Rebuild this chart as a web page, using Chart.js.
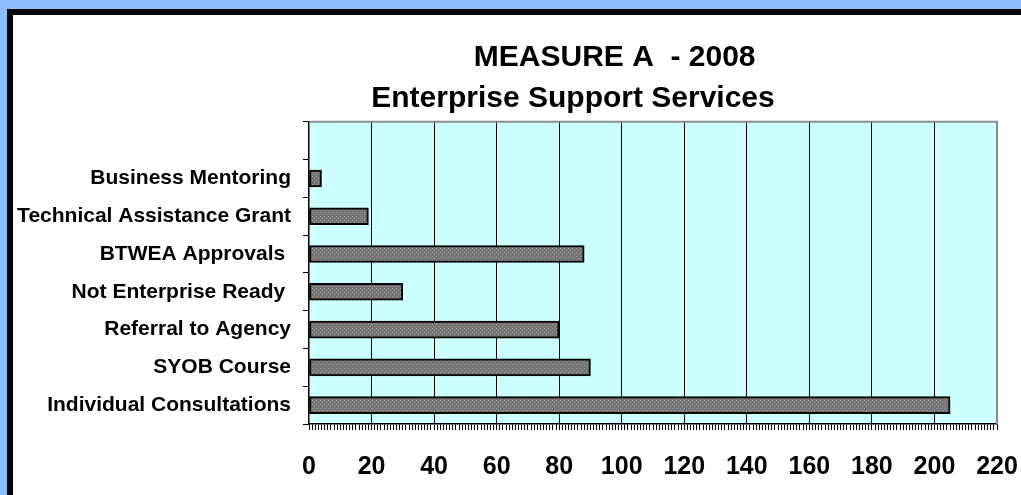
<!DOCTYPE html>
<html><head><meta charset="utf-8">
<script src="https://cdn.jsdelivr.net/npm/chart.js@4/dist/chart.umd.min.js"></script>
<style>
html,body{margin:0;padding:0;width:1021px;height:495px;overflow:hidden;background:#8DBEFE;}
#frame{position:absolute;left:7px;top:9px;width:1100px;height:600px;border-left:6px solid #000;border-top:6px solid #000;background:#fff;}
#c{position:absolute;left:0;top:0;}
</style></head><body>
<div id="frame"></div>
<canvas id="c" width="1146" height="495"></canvas>
<script>
const titleLines = ['          MEASURE A  - 2008', 'Enterprise Support Services'];
const categories = ['', 'Business Mentoring', 'Technical Assistance Grant', 'BTWEA Approvals ', 'Not Enterprise Ready ', 'Referral to Agency', 'SYOB Course', 'Individual Consultations'];
const values = [null, 4, 19, 88, 30, 80, 90, 205];
const xMin = 0, xMax = 220, xMajorStep = 20, xMinorStep = 1;

Chart.defaults.font.family = '"Liberation Sans", Arial, sans-serif';

function makePattern() {
  const p = document.createElement('canvas');
  p.width = 4; p.height = 4;
  const g = p.getContext('2d');
  g.fillStyle = '#757575'; g.fillRect(0, 0, 4, 4);
  g.fillStyle = '#9c9c9c'; g.fillRect(0, 0, 1, 1); g.fillRect(2, 2, 1, 1);
  return g.createPattern(p, 'repeat');
}

const plotBg = {
  id: 'plotBg',
  beforeDraw(chart) {
    const {ctx, chartArea: a} = chart;
    ctx.save(); ctx.fillStyle = '#CCFFFF';
    ctx.fillRect(a.left, a.top, a.width, a.height); ctx.restore();
  },
  afterDraw(chart) {
    const {ctx, chartArea: a} = chart;
    ctx.save(); ctx.strokeStyle = '#8c8c8c'; ctx.lineWidth = 2;
    ctx.beginPath(); ctx.moveTo(a.left, a.top); ctx.lineTo(a.right, a.top); ctx.lineTo(a.right, a.bottom);
    ctx.stroke(); ctx.restore();
  }
};

new Chart(document.getElementById('c'), {
  type: 'bar',
  data: {
    labels: categories,
    datasets: [{
      data: values,
      backgroundColor: makePattern(),
      borderColor: '#000',
      borderWidth: 2,
      borderSkipped: false,
      barThickness: 17
    }]
  },
  options: {
    responsive: false, animation: false, indexAxis: 'y', devicePixelRatio: 1,
    layout: {padding: 0},
    plugins: {
      legend: {display: false}, tooltip: {enabled: false},
      title: {display: true, text: titleLines, color: '#000',
        font: {size: 30, weight: 'bold', lineHeight: 1.38}, padding: {top: 37, bottom: 2}}
    },
    scales: {
      x: {
        type: 'linear', min: xMin, max: xMax,
        afterFit(s) { s.height = 71; },
        border: {display: true, color: '#000', width: 1.5},
        grid: {
          color: c => (c.tick && c.tick.value % xMajorStep === 0 && c.tick.value > xMin && c.tick.value < xMax) ? '#000' : 'rgba(0,0,0,0)',
          tickColor: '#000', tickLength: 6, lineWidth: 1
        },
        ticks: {stepSize: xMinorStep, maxTicksLimit: 1000, autoSkip: false, maxRotation: 0, minRotation: 0,
          padding: 22, color: '#000', font: {size: 25, weight: 'bold'},
          callback: v => (v % xMajorStep === 0 ? String(v) : '')}
      },
      y: {
        type: 'category',
        afterFit(s) { s.width = 309; },
        border: {display: true, color: '#000', width: 1.5},
        grid: {drawOnChartArea: false, tickLength: 6, color: '#000', offset: true},
        ticks: {padding: 12, color: '#000', font: {size: 21, weight: 'bold'}, autoSkip: false}
      },
      yRight: {
        type: 'linear', axis: 'y', position: 'right', display: true,
        afterFit(s) { s.width = 149; },
        grid: {display: false}, border: {display: false}, ticks: {display: false}
      }
    }
  },
  plugins: [plotBg]
});
</script>
</body></html>
